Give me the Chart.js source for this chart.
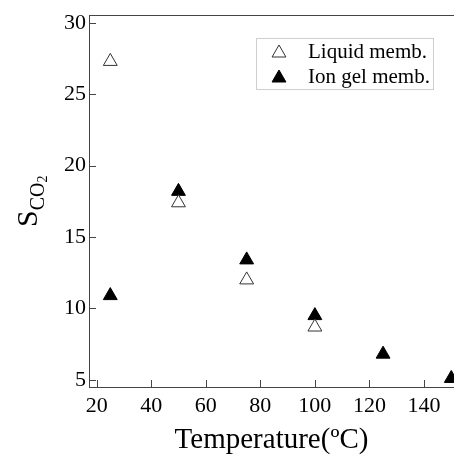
<!DOCTYPE html>
<html>
<head>
<meta charset="utf-8">
<script src="https://cdn.jsdelivr.net/npm/chart.js@4.4.0/dist/chart.umd.min.js"></script>
<style>
  html, body { margin: 0; padding: 0; background: #fff; }
  #wrap { width: 454px; height: 455px; }
</style>
</head>
<body>
<div id="wrap"><canvas id="chart"></canvas></div>
<script>
const temperatures = [25, 50, 75, 100, 125, 150];
const liquidValues = [27.3, 17.4, 12.0, 8.7];
const ionGelValues = [10.9, 18.2, 13.4, 9.5, 6.8, 5.1];
const xTicks = [20, 40, 60, 80, 100, 120, 140];
const yTicks = [5, 10, 15, 20, 25, 30];
const seriesLabels = ['Liquid memb.', 'Ion gel memb.'];

const serif = 'Liberation Serif, Times New Roman, serif';
const axisColor = '#444';

function toPoints(values) {
  return values.map((v, i) => ({ x: temperatures[i], y: v }));
}

function triangle(ctx, x, y, r, fill, stroke) {
  ctx.beginPath();
  ctx.moveTo(x, y - r);
  ctx.lineTo(x + r * 0.866, y + r * 0.5);
  ctx.lineTo(x - r * 0.866, y + r * 0.5);
  ctx.closePath();
  ctx.fillStyle = fill;
  ctx.fill();
  ctx.strokeStyle = stroke;
  ctx.lineWidth = 1;
  ctx.stroke();
}

// inward ticks, top frame line, y title with subscripts, legend in the corner
const decorations = {
  id: 'decorations',
  beforeDatasetsDraw(chart) {
    const { ctx, chartArea } = chart;
    const xs = chart.scales.x, ys = chart.scales.y;
    ctx.save();
    ctx.strokeStyle = axisColor;
    ctx.lineWidth = 1;
    ctx.beginPath();
    xTicks.forEach(v => {
      const px = Math.round(xs.getPixelForValue(v)) + 0.5;
      ctx.moveTo(px, chartArea.bottom);
      ctx.lineTo(px, chartArea.bottom - 7);
    });
    yTicks.forEach(v => {
      const py = Math.round(ys.getPixelForValue(v)) + 0.5;
      ctx.moveTo(chartArea.left, py);
      ctx.lineTo(chartArea.left + 7, py);
    });
    ctx.moveTo(chartArea.left, chartArea.top + 0.5);
    ctx.lineTo(chartArea.right, chartArea.top + 0.5);
    ctx.stroke();
    ctx.restore();
  },
  afterDraw(chart) {
    const { ctx, chartArea } = chart;
    ctx.save();

    // y title: S with subscript CO2
    const cy = (chartArea.top + chartArea.bottom) / 2;
    ctx.translate(37, cy + 26);
    ctx.rotate(-Math.PI / 2);
    ctx.fillStyle = '#000';
    ctx.textBaseline = 'alphabetic';
    ctx.textAlign = 'left';
    ctx.font = '30px ' + serif;
    ctx.fillText('S', 0, 0);
    let w = ctx.measureText('S').width;
    ctx.font = '20px ' + serif;
    ctx.fillText('CO', w, 7);
    w += ctx.measureText('CO').width;
    ctx.font = '14px ' + serif;
    ctx.fillText('2', w, 10);
    ctx.setTransform(1, 0, 0, 1, 0, 0);

    // legend box
    const bx = 256, by = 38, bw = 177, bh = 51;
    ctx.strokeStyle = '#cfcfcf';
    ctx.lineWidth = 1;
    ctx.strokeRect(bx + 0.5, by + 0.5, bw, bh);
    const rows = [by + 14, by + 39];
    const styles = [['#fff', '#333'], ['#000', '#000']];
    ctx.font = '21px ' + serif;
    ctx.textBaseline = 'middle';
    rows.forEach((ry, i) => {
      triangle(ctx, bx + 23, ry + 1, 8, styles[i][0], styles[i][1]);
      ctx.fillStyle = '#000';
      ctx.fillText(seriesLabels[i], bx + 52, ry);
    });
    ctx.restore();
  }
};

new Chart(document.getElementById('chart'), {
  type: 'scatter',
  data: {
    datasets: [
      {
        label: seriesLabels[0],
        data: toPoints(liquidValues),
        pointStyle: 'triangle',
        pointRadius: 8,
        pointHoverRadius: 8,
        backgroundColor: '#fff',
        borderColor: '#333',
        borderWidth: 1
      },
      {
        label: seriesLabels[1],
        data: toPoints(ionGelValues),
        pointStyle: 'triangle',
        pointRadius: 8,
        pointHoverRadius: 8,
        backgroundColor: '#000',
        borderColor: '#000',
        borderWidth: 1
      }
    ]
  },
  options: {
    responsive: true,
    maintainAspectRatio: false,
    animation: false,
    layout: { autoPadding: false, padding: { top: 15, right: 0, left: 0, bottom: 0 } },
    plugins: {
      legend: { display: false },
      tooltip: { enabled: false }
    },
    scales: {
      x: {
        type: 'linear',
        min: 17.2,
        max: 151,
        afterBuildTicks: s => { s.ticks = xTicks.map(v => ({ value: v })); },
        afterFit: s => { s.height = 68; s.paddingRight = 0; s.paddingLeft = 0; },
        grid: { drawOnChartArea: false, drawTicks: false },
        border: { color: axisColor, width: 1 },
        ticks: { font: { family: serif, size: 22 }, color: '#000', padding: 6, maxRotation: 0 },
        title: {
          display: true,
          text: 'Temperature(ºC)',
          font: { family: serif, size: 29, lineHeight: 1 },
          color: '#000',
          padding: { top: 0, bottom: 0 }
        }
      },
      y: {
        min: 4.5,
        max: 30.55,
        afterBuildTicks: s => { s.ticks = yTicks.map(v => ({ value: v })); },
        afterFit: s => { s.width = 89; s.paddingTop = 0; s.paddingBottom = 0; },
        grid: { drawOnChartArea: false, drawTicks: false },
        border: { color: axisColor, width: 1 },
        ticks: { font: { family: serif, size: 22 }, color: '#000', padding: 3 }
      }
    }
  },
  plugins: [decorations]
});
</script>
</body>
</html>
